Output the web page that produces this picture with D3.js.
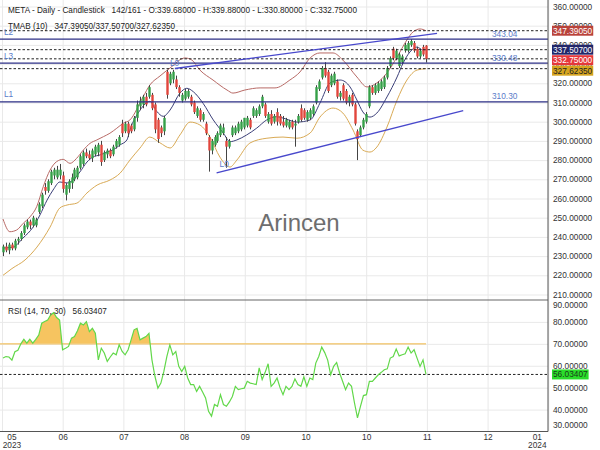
<!DOCTYPE html>
<html><head><meta charset="utf-8">
<script src="https://cdn.jsdelivr.net/npm/d3@7/dist/d3.min.js"></script>
<style>
html,body{margin:0;padding:0;background:#fff;}
svg text{font-family:"Liberation Sans",Arial,sans-serif;}
</style></head><body>
<svg id="chart" width="600" height="450"></svg>
<script>
// ---------- DATA ----------
const opens=[232,235,233,236,234,238,239,242,245,248,246,246,253,256,266,264,268,272,271,272,272,262,265,268,270,271,276,278,284,283,281,283,284,288,280,283,285,283,287,288,299,295,299,298,296,302,308,309,313,313,314,309,301,297,295,326,320,322,322,318,311,312,313,313,310,303,306,301,299,292,285,288,290,293,294,290,287,293,294,295,296,297,298,301,303,303,304,308,309,300,304,300,305,303,300,298,297,300,298,300,307,306,301,302,304,310,317,323,328,326,319,320,321,313,319,316,310,314,309,295,293,297,300,308,318,315,316,317,318,323,329,338,333,329,331,337,337,340,341,338,334,339,339.68];
const highs=[236,237,237,237,239,240,243,247,249,249,251,250,258,263,268,270,275,276,277,278,274,268,270,273,276,277,283,285,286,285,286,288,289,290,285,286,286,288,291,293,301,300,300,299,303,311,313,314,315,319,315,310,302,298,303,327,326,327,324,319,315,317,317,314,311,308,307,305,300,293,291,293,295,299,299,292,291,298,298,300,301,302,303,302,308,307,309,314,310,305,306,304,307,304,303,302,301,301,301,304,309,307,306,307,309,319,322,329,331,327,325,326,322,316,320,317,314,315,310,296,298,302,305,319,319,320,321,322,324,329,334,339,338,336,335,341,342,343,342,339,338,340,339.88];
const lows=[230,232,231,233,233,236,238,241,244,244,245,245,252,255,262,263,267,270,270,270,263,259,263,265,269,270,275,277,281,280,279,282,282,277,279,281,281,282,286,287,292,294,292,294,295,300,306,307,308,312,306,294,289,292,293,312,319,320,317,313,310,311,312,308,304,302,300,300,293,274,283,287,289,292,293,276,286,292,293,294,295,296,297,296,302,302,303,307,302,299,298,299,298,298,297,297,296,296,287,299,300,301,300,301,303,309,316,322,323,315,318,319,312,311,311,309,308,308,298,280,292,296,299,307,314,314,315,316,317,322,328,332,332,328,330,336,336,339,336,333,333,334,330.8];
const closes=[235,233,236,234,238,239,242,246,248,246,250,249,257,262,264,269,274,275,275,275,265,267,269,271,275,276,282,284,282,281,285,287,288,279,284,285,282,287,290,292,294,299,294,295,302,309,311,313,309,318,307,296,291,294,302,314,325,326,318,315,314,316,316,309,305,307,301,304,294,285,290,292,294,298,297,287,290,297,297,299,300,302,302,297,307,306,308,313,303,304,299,303,300,299,298,301,300,297,299,303,301,302,305,306,308,318,321,328,324,316,324,325,313,315,312,310,313,309,299,291,297,301,304,318,315,319,320,321,323,328,333,333,337,335,334,340,341,342,337,334,337,335,332.75];
const rsiValues=[63.5,64.2,64,62.6,66.4,67.1,70,72.1,70.3,72.1,70.3,72,74,79.4,80.2,80.9,83.2,84.2,82,80.9,67.3,68,68.8,72.6,73.3,76,79.4,78.6,80.1,75.6,77.1,74.8,62.7,68,65.8,62,64,65.8,65,69.6,66.5,65,67.3,71.8,76.4,77.1,71.8,72.6,73.3,74.8,62.7,55.2,49.8,52.1,57.4,64.2,69.5,65,66.5,59.7,57.4,59.7,54.4,51.4,51.4,48.3,50.6,48,45.3,39.2,37,42.3,41.5,46.8,42.3,41.5,43.5,46,50.6,49.1,49.5,49.8,52.9,52.1,51.8,51.4,59,53.7,57,60.9,50.6,52.1,54.4,50,46.8,50.6,49.1,50.6,54,51.4,50.6,55,50.6,54.4,53.7,61.2,64.2,68.5,66,62.6,55.9,59.7,61.5,56.7,52.9,49.1,52.1,50.6,43,36.2,41.5,46.4,46.8,52.9,52.9,54.4,55.9,57,58.2,58.6,63.5,64.2,67.6,64.5,65,65.5,68.5,65.8,67.3,63.5,59.7,62.7,56.03407];
const tmabUpper=[[0,249.3],[2.3,242.7],[4.6,243.6],[6.8,247.1],[9.1,250.5],[11.3,255.7],[13.5,266.1],[15.8,274.8],[18,279.2],[20.2,280.4],[22.5,278.3],[24.7,280.9],[27,285.3],[29.2,288.7],[31.5,290.5],[33.7,292.2],[35.9,294],[38.2,296.6],[40.4,299.2],[42.6,300.9],[47,312.9],[49.3,319.1],[52.7,323.8],[56.1,328],[61.1,333.2],[63.4,332.1],[66.1,326.9],[70.5,321.7],[75.2,316.5],[77.2,314.9],[81.2,316.5],[86.3,317.6],[91.3,317.6],[96.3,321.7],[99.7,325.9],[103.1,333.2],[106.4,335.8],[110.8,335.8],[114.1,332.1],[118.8,323.3],[122.2,318.1],[125.5,320.2],[128.9,325.4],[132.3,333.7],[135.6,342.6],[137.6,346.7],[140,348.3],[142,347.3905]];
const tmabMiddle=[[0,234.2],[3.4,234.7],[6.7,239.4],[10.1,245.1],[12.4,251.4],[14.8,259.2],[16.8,264.4],[19.1,268.6],[21.5,268.1],[23.5,269.6],[25.8,273.8],[28.2,279],[30.2,281.6],[32.6,282.7],[34.9,284.2],[36.9,285.3],[39.3,287.9],[41.6,290.5],[42.6,295.6],[46,306],[49.3,310.6],[51.6,305.4],[53.8,302.8],[56.1,306.1],[59.4,314.9],[61.7,317.4],[63.9,315.6],[67.2,309.5],[70.6,300.9],[74,294],[76.2,289.6],[78.5,290.5],[81.8,293.1],[85.2,296.7],[88.5,300.9],[91.9,302.6],[94,301.9],[98.7,299.8],[103.1,300.9],[106.4,309.7],[109.8,320.2],[113.2,321.7],[116.5,318.1],[118.8,311.3],[120.8,305.1],[123.2,302.4],[125.5,304.5],[128.9,312.9],[132.3,323.3],[134.3,330.5],[136.6,336.3],[139,338.9],[141,337.3],[142,337.507]];
const tmabLower=[[0,220],[3,223.5],[7.4,228],[11.4,234.7],[15.8,245.1],[19.1,255.1],[21.5,256.6],[24.8,257.6],[28.2,262.9],[31.6,267],[35.9,269.6],[39.3,273.2],[42.6,280],[46,286.3],[49.3,292],[52.7,289],[56.1,286.3],[59.4,293.1],[62.8,299.8],[66.1,298.3],[69.5,292],[72.8,281.6],[76.2,276.4],[78.5,280],[82.9,288.9],[88.6,291.4],[94,292],[98.7,291.4],[103.1,294.1],[106.4,302.4],[110.8,307.1],[114.1,304.5],[117.5,295.7],[120.8,285.2],[123.2,284.2],[125.5,286.8],[128.9,297.2],[132.3,311.3],[135.6,321.7],[139,326.9],[142,327.6235]];
const levelNames=["L2","L3","L1"];
const levelValues=[343.04,330.48,310.30];
const lastValues=[347.3905,337.507,332.75,327.6235];
const lastColors=["#b9433b","#22276a","#e5383b","#d6a41f"];
const lastTextColors=["#fff","#fff","#fff","#222"];
const trendUpper=[[57.7,327.7],[145.7,346.0]];
const trendLower=[[71.7,273.3],[154.5,305.8]];
const priceTicks=[210,220,230,240,250,260,270,280,290,300,310,320,330,340,350,360];
const rsiTicks=[30,40,50,60,70,80,90];
const monthTickBars=[-0.34,20.04,40.41,60.79,81.17,101.55,121.92,142.3,162.68,183.05];
const monthLabels=["05","06","07","08","09","10","10","11","12","01"];
const yearLabels=["2023","","","","","","","","","2024"];
const titleText="META - Daily - Candlestick   142/161 - O:339.68000 - H:339.88000 - L:330.80000 - C:332.75000";
const tmabText="TMAB (10)   347.39050/337.50700/327.62350";
const rsiText="RSI (14, 70, 30)   56.03407";

// ---------- LAYOUT ----------
const svg=d3.select("#chart");
const plotW=548, mainBot=300, rsiTop=300, rsiBot=431.5;
const x=d3.scaleLinear().domain([0,142]).range([3,426]);
const yP=d3.scaleLinear().domain([210,360]).range([294.5,6.5]);
const yR=d3.scaleLinear().domain([30,90]).range([rsiBot,rsiTop]);
const fs=8.3;

const defs=svg.append("defs");
defs.append("clipPath").attr("id","clipMain").append("rect").attr("x",0).attr("y",0).attr("width",plotW).attr("height",mainBot);
defs.append("clipPath").attr("id","clipRsi").append("rect").attr("x",0).attr("y",rsiTop).attr("width",plotW).attr("height",rsiBot-rsiTop);
defs.append("clipPath").attr("id","clipOB").append("rect").attr("x",0).attr("y",rsiTop).attr("width",plotW).attr("height",yR(70)-rsiTop);

const gstyle=g=>{g.select(".domain").remove();g.selectAll("line").attr("stroke","#e9e9e9");};
svg.append("g").call(d3.axisLeft(yP).tickValues(priceTicks).tickSize(-plotW).tickFormat("")).call(gstyle);
svg.append("g").call(d3.axisLeft(yR).tickValues([40,50,60,70,80]).tickSize(-plotW).tickFormat("")).call(gstyle);
svg.append("g").attr("transform",`translate(0,${rsiBot})`).call(d3.axisBottom(x).tickValues(monthTickBars).tickSize(-rsiBot).tickFormat("")).call(gstyle);

const main=svg.append("g").attr("clip-path","url(#clipMain)");
main.append("text").attr("x",299).attr("y",231).attr("text-anchor","middle").attr("font-size",24).attr("fill","#6e6e6e").text("Arincen");

const bandLine=d3.line().x(d=>x(d[0])).y(d=>yP(d[1])).curve(d3.curveMonotoneX);
main.append("path").datum(tmabUpper).attr("d",bandLine).attr("fill","none").attr("stroke","#b86a66").attr("stroke-width",1);
main.append("path").datum(tmabMiddle).attr("d",bandLine).attr("fill","none").attr("stroke","#3b3f78").attr("stroke-width",1);
main.append("path").datum(tmabLower).attr("d",bandLine).attr("fill","none").attr("stroke","#d9aa55").attr("stroke-width",1);

const cg=main.append("g");
closes.forEach((c,i)=>{
  const o=opens[i], up=c>=o;
  const cx=Math.round(x(i))+0.5;
  cg.append("line").attr("x1",cx).attr("x2",cx).attr("y1",yP(highs[i])).attr("y2",yP(lows[i])).attr("stroke","#444").attr("stroke-width",1);
  const top=yP(Math.max(o,c)), bot=yP(Math.min(o,c));
  cg.append("rect").attr("x",cx-1.2).attr("width",2.4).attr("y",top).attr("height",Math.max(1,bot-top)).attr("fill",up?"#35a048":"#e2463c");
});

lastValues.forEach(v=>{
  main.append("line").attr("x1",0).attr("x2",plotW).attr("y1",yP(v)).attr("y2",yP(v)).attr("stroke","#222").attr("stroke-width",1).attr("stroke-dasharray","2.5,2");
});
levelValues.forEach((v,k)=>{
  main.append("line").attr("x1",0).attr("x2",plotW).attr("y1",yP(v)).attr("y2",yP(v)).attr("stroke","#2c2f86").attr("stroke-width",1.3);
  main.append("text").attr("x",4).attr("y",yP(v)-4.5).attr("font-size",fs).attr("fill","#5b7cc9").text(levelNames[k]);
  main.append("text").attr("x",492).attr("y",yP(v)-2.5).attr("font-size",fs).attr("fill","#5b7cc9").text(v.toFixed(2));
});
const tl=d3.line().x(d=>x(d[0])).y(d=>yP(d[1]));
[trendUpper,trendLower].forEach((t,k)=>{
  main.append("path").datum(t).attr("d",tl).attr("fill","none").attr("stroke","#4848cc").attr("stroke-width",1.3);
  const p0=[x(t[0][0]),yP(t[0][1])];
  main.append("text").attr("x",p0[0]+(k?3:-5)).attr("y",p0[1]+(k?-6:-2.5)).attr("font-size",fs).attr("fill","#5b7cc9").text("L0");
});

svg.append("text").attr("x",8).attr("y",13).attr("font-size",8.2).attr("fill","#222").style("white-space","pre").text(titleText);
svg.append("text").attr("x",8).attr("y",28.5).attr("font-size",8.2).attr("fill","#222").style("white-space","pre").text(tmabText);

const rg=svg.append("g").attr("clip-path","url(#clipRsi)");
const rArea=d3.area().x((d,i)=>x(i)).y0(yR(70)).y1(d=>yR(d));
rg.append("path").datum(rsiValues).attr("d",rArea).attr("fill","#f6c460").attr("clip-path","url(#clipOB)");
rg.append("line").attr("x1",0).attr("x2",x(142)).attr("y1",yR(70)).attr("y2",yR(70)).attr("stroke","#f2c46a").attr("stroke-width",1.2);
rg.append("line").attr("x1",0).attr("x2",plotW).attr("y1",yR(rsiValues[142])).attr("y2",yR(rsiValues[142])).attr("stroke","#222").attr("stroke-dasharray","2.5,2");
rg.append("path").datum(rsiValues).attr("d",d3.line().x((d,i)=>x(i)).y(d=>yR(d))).attr("fill","none").attr("stroke","#62d84a").attr("stroke-width",1.2);
svg.append("text").attr("x",8).attr("y",314).attr("font-size",8.2).attr("fill","#222").style("white-space","pre").text(rsiText);

svg.append("line").attr("x1",0).attr("x2",plotW).attr("y1",rsiTop).attr("y2",rsiTop).attr("stroke","#666");
svg.append("line").attr("x1",0).attr("x2",plotW).attr("y1",rsiBot).attr("y2",rsiBot).attr("stroke","#555");
svg.append("line").attr("x1",plotW).attr("x2",plotW).attr("y1",0).attr("y2",rsiBot).attr("stroke","#555");

const pa=svg.append("g").attr("transform",`translate(${plotW},0)`)
  .call(d3.axisRight(yP).tickValues(priceTicks).tickSize(0).tickPadding(5).tickFormat(d3.format(".5f")));
pa.select(".domain").remove();
pa.selectAll("text").attr("font-size",fs).attr("fill","#333").attr("font-family",null);
const ra=svg.append("g").attr("transform",`translate(${plotW},0)`)
  .call(d3.axisRight(yR).tickValues(rsiTicks).tickSize(0).tickPadding(5).tickFormat(d3.format(".5f")));
ra.select(".domain").remove();
ra.selectAll("text").attr("font-size",fs).attr("fill","#333").attr("font-family",null)
  .attr("dy",d=>d===90?"0.95em":d===30?"-0.5em":"0.32em");

function box(v,yv,bg,fg){
  const g=svg.append("g");
  const t=g.append("text").attr("x",plotW+5).attr("y",yv).attr("dy","0.34em").attr("font-size",fs).attr("fill",fg).text(v);
  const w=t.node().getComputedTextLength();
  g.insert("rect","text").attr("x",plotW+4).attr("y",yv-5).attr("width",w+2).attr("height",10).attr("fill",bg);
}
let prevBottom=-1e9;
lastValues.map((v,k)=>({v,k,y:yP(v)})).sort((a,b)=>a.y-b.y).forEach(o=>{
  let yc=Math.max(o.y,prevBottom+5.5);
  box(o.v.toFixed(5),yc,lastColors[o.k],lastTextColors[o.k]);
  prevBottom=yc+5;
});
box(rsiValues[142].toFixed(5),yR(rsiValues[142]),"#2add2a","#1a3a1a");

const ta=svg.append("g").attr("transform",`translate(0,${rsiBot})`)
  .call(d3.axisBottom(x).tickValues(monthTickBars).tickSize(0).tickPadding(3).tickFormat((d,i)=>monthLabels[i]));
ta.select(".domain").remove();
ta.selectAll("text").attr("font-size",fs).attr("fill","#333").attr("font-family",null)
  .attr("dx",(d,i)=>i===0?9.5:i===monthLabels.length-1?-11.5:0);
ta.selectAll(".tick").append("text").attr("y",16).attr("font-size",fs).attr("fill","#333")
  .attr("dx",(d,i)=>i===0?9.5:i===monthLabels.length-1?-11.5:0).attr("text-anchor","middle").text((d,i)=>yearLabels[i]);
</script></body></html>
